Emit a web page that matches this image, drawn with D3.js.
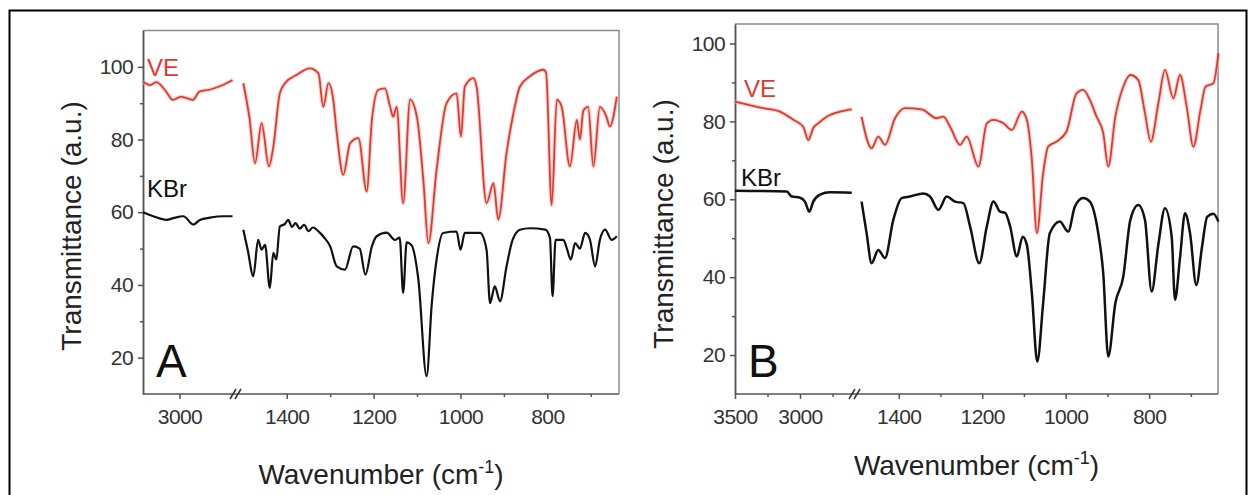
<!DOCTYPE html>
<html>
<head>
<meta charset="utf-8">
<script src="https://cdn.jsdelivr.net/npm/d3@7"></script>
<style>
  body { margin: 0; background: #fff; }
  svg { display: block; font-family: "Liberation Sans", Arial, sans-serif; }
</style>
</head>
<body>
<svg id="chart" width="1248" height="495"></svg>
<script>
'use strict';

// axis ticks
var yTicks = [20, 40, 60, 80, 100];
var yMinor = [30, 50, 70, 90];
var highTicks = [1400, 1200, 1000, 800];
var highMinor = [1300, 1100, 900, 700];

// panel A, high wavenumber part (cm-1, transmittance)
var veA_low = [[3150, 95.9], [3120, 95.0], [3095, 95.8], [3055, 93.2], [3027, 90.9], [2993, 91.8],
  [2975, 91.5], [2945, 90.9], [2918, 93.2], [2877, 93.7], [2822, 95.0], [2782, 96.4]];
var kbrA_low = [[3150, 60], [3108, 58.9], [3053, 57.9], [3025, 58.4], [2984, 58.9], [2943, 56.6],
  [2916, 57.9], [2875, 58.5], [2821, 58.9], [2782, 58.9]];

// panel A, fingerprint part
var veA_high = [[1500, 95.5], [1486, 86], [1473, 73.5], [1458, 84.5], [1441, 72.6], [1431, 78], [1416, 92.7],
  [1404, 95.5], [1377, 97.8], [1347, 99.6], [1327, 98.2], [1316, 89], [1304, 95.5], [1293, 91],
  [1285, 82], [1270, 70.3], [1254, 79], [1235, 80.4], [1216, 65.7], [1204, 85.4], [1189, 93.7],
  [1174, 94.1], [1162, 89], [1155, 86.3], [1147, 89], [1132, 62.5], [1116, 91], [1100, 86],
  [1085, 68], [1074, 51.5], [1055, 71.7], [1032, 90], [1009, 92.7], [999, 80.8], [990, 94.6],
  [970, 96.9], [963, 94.6], [940, 62.5], [924, 68], [913, 58], [894, 76.3], [878, 87.3],
  [863, 94.6], [840, 97.4], [809, 99.2], [803, 98.5], [790, 62], [778, 91], [767, 89],
  [748, 72.6], [732, 85.4], [725, 80], [717, 88], [706, 89], [694, 72.6], [679, 89],
  [664, 86.3], [656, 83.6], [640, 91.8]];
var kbrA_high = [[1500, 55.2], [1490, 49.7], [1477, 42.4], [1466, 52.4], [1458, 49.7], [1450, 51],
  [1439, 39.2], [1431, 48.8], [1424, 47], [1416, 56.1], [1404, 56.8], [1397, 57.9], [1388, 56],
  [1380, 57], [1370, 55.5], [1360, 56.5], [1350, 54.8], [1340, 55.8], [1324, 54.4], [1315, 53.2],
  [1300, 50.6], [1285, 45.1], [1266, 44.2], [1247, 50.6], [1232, 50], [1219, 42.8],
  [1204, 50.6], [1193, 53.4], [1170, 54.4], [1151, 52.4], [1140, 53], [1132, 37.8], [1124, 51.7],
  [1113, 51], [1097, 41.5], [1078, 14.9], [1066, 35], [1055, 47], [1040, 54.3], [1009, 54.7],
  [1000, 49.7], [990, 54.3], [955, 54.3], [940, 49.7], [932, 35], [921, 39.6], [909, 35.5],
  [894, 45.1], [880, 52.4], [863, 55.2], [840, 55.6], [805, 55.2], [794, 53], [788, 36.9],
  [781, 52.4], [763, 52.4], [755, 50], [746, 47], [736, 51.5], [725, 50], [713, 54.3],
  [702, 52.5], [690, 45.1], [679, 52.4], [667, 55.2], [652, 52.4], [640, 53.4]];

// panel B
var veB_low = [[3500, 85.1], [3282, 83.4], [3154, 82.5], [3051, 80.4], [2975, 78.6], [2936, 75.2],
  [2898, 78.3], [2860, 79.5], [2795, 81.2], [2692, 82.5], [2602, 83.1]];
var kbrB_low = [[3500, 62.2], [3102, 62], [3064, 60.7], [3000, 60.4], [2962, 59.4], [2928, 56.8],
  [2898, 59.4], [2846, 61.2], [2769, 61.8], [2602, 61.7]];
var veB_high = [[1489, 81.2], [1465, 73.1], [1449, 76.1], [1433, 74], [1409, 80.8], [1385, 83.4],
  [1345, 83.1], [1309, 80.8], [1293, 81.2], [1277, 78.6], [1253, 74], [1237, 76.1], [1209, 68.4],
  [1189, 79.5], [1173, 80.4], [1149, 79.5], [1129, 77.8], [1105, 82.5], [1093, 80.4], [1081, 70.1],
  [1069, 51.3], [1054, 66.7], [1042, 73.5], [1022, 74.8], [998, 77.4], [974, 87.2], [958, 88.1],
  [942, 85.5], [926, 81.2], [910, 77], [898, 68.4], [881, 81.2], [862, 88.9], [845, 91.9],
  [826, 90.6], [810, 82.1], [796, 74.8], [778, 84.6], [762, 93.2], [742, 85.9], [726, 91.9],
  [710, 83.8], [694, 73.5], [677, 82.9], [665, 88.9], [646, 89.8], [634, 97.5]];
var kbrB_high = [[1489, 59.4], [1477, 51.3], [1465, 43.6], [1449, 47], [1433, 44.9], [1413, 54.7],
  [1393, 60.3], [1373, 60.7], [1341, 61.5], [1325, 60.7], [1305, 57.3], [1285, 60.7], [1265, 59.4],
  [1245, 59], [1229, 53], [1207, 43.6], [1189, 53], [1173, 59.4], [1157, 56.8], [1145, 56.5],
  [1133, 53], [1117, 45.3], [1103, 50.4], [1093, 48.3], [1081, 35.9], [1068, 18.3], [1054, 33.3],
  [1038, 51.3], [1014, 54.3], [994, 51.7], [978, 58.1], [958, 60.3], [942, 59.4], [922, 51.3],
  [910, 41], [898, 19.6], [881, 33.3], [862, 40.1], [845, 54.7], [826, 58.5], [810, 54.7],
  [794, 36.3], [778, 48.3], [762, 57.7], [746, 50.4], [738, 34.2], [726, 45], [714, 56.4],
  [702, 51.3], [687, 38], [673, 48], [661, 55.5], [646, 56.3], [634, 54.3]];

var RED = '#e03a30';
var svg = d3.select('#chart');
var fmt = d3.format('d');

svg.append('rect')
  .attr('width', 1248).attr('height', 495).attr('fill', '#fff');

// outer figure border
svg.append('rect')
  .attr('x', 9.5).attr('y', 10.5)
  .attr('width', 1237).attr('height', 500)
  .attr('fill', 'none').attr('stroke', '#000').attr('stroke-width', 2);

function styleAxis(sel) {
  sel.selectAll('path, line').attr('stroke', '#555').attr('stroke-width', 1.5);
  sel.selectAll('text')
    .attr('fill', '#333')
    .style('font-size', '21px')
    .style('letter-spacing', '-0.6px');
}

function drawPanel(p) {
  var y = d3.scaleLinear().domain(p.yDomain).range([p.bottom, p.top]);
  var xLow = d3.scaleLinear().domain(p.lowDomain).range(p.lowRange);
  var xHigh = d3.scaleLinear().domain(p.highDomain).range(p.highRange);
  var g = svg.append('g');

  // top and right frame
  g.append('path')
    .attr('d', 'M' + p.left + ',' + p.top + 'H' + p.right + 'V' + p.bottom)
    .attr('fill', 'none').attr('stroke', '#8c8c8c').attr('stroke-width', 1.5);

  // y axis
  g.append('g').attr('transform', 'translate(' + p.left + ',0)')
    .call(d3.axisLeft(y).tickValues(yMinor).tickSize(3).tickFormat('').tickSizeOuter(0))
    .call(styleAxis);
  g.append('g').attr('transform', 'translate(' + p.left + ',0)')
    .call(d3.axisLeft(y).tickValues(yTicks).tickSize(5).tickPadding(5).tickSizeOuter(0).tickFormat(fmt))
    .call(styleAxis);

  // x axis, two segments
  var xg = g.append('g').attr('transform', 'translate(0,' + p.bottom + ')');
  xg.append('g').call(d3.axisBottom(xLow).tickValues(p.lowMinor).tickSize(3).tickFormat('').tickSizeOuter(0)).call(styleAxis);
  xg.append('g').call(d3.axisBottom(xLow).tickValues(p.lowTicks).tickSize(5).tickPadding(10).tickSizeOuter(0).tickFormat(fmt)).call(styleAxis);
  xg.append('g').call(d3.axisBottom(xHigh).tickValues(highMinor).tickSize(3).tickFormat('').tickSizeOuter(0)).call(styleAxis);
  xg.append('g').call(d3.axisBottom(xHigh).tickValues(highTicks).tickSize(5).tickPadding(10).tickSizeOuter(0).tickFormat(fmt)).call(styleAxis);
  xg.selectAll('.domain').remove();
  xg.append('line').attr('x1', p.left).attr('x2', p.right)
    .attr('stroke', '#555').attr('stroke-width', 1.5);
  // break marks
  [-3, 2].forEach(function (dx) {
    xg.append('line')
      .attr('x1', p.breakX + dx - 3).attr('y1', 5)
      .attr('x2', p.breakX + dx + 3).attr('y2', -5)
      .attr('stroke', '#333').attr('stroke-width', 1.5);
  });

  // spectra
  var lowLine = d3.line().x(function (d) { return xLow(d[0]); }).y(function (d) { return y(d[1]); }).curve(d3.curveMonotoneX);
  var highLine = d3.line().x(function (d) { return xHigh(d[0]); }).y(function (d) { return y(d[1]); }).curve(d3.curveMonotoneX);

  [[p.ve[0], lowLine], [p.ve[1], highLine]].forEach(function (s) {
    g.append('path').datum(s[0]).attr('d', s[1])
      .attr('fill', 'none').attr('stroke', '#f6b3aa').attr('stroke-width', 4)
      .attr('stroke-linejoin', 'round').attr('opacity', 0.6);
    g.append('path').datum(s[0]).attr('d', s[1])
      .attr('fill', 'none').attr('stroke', RED).attr('stroke-width', 1.8)
      .attr('stroke-linejoin', 'round');
  });
  [[p.kbr[0], lowLine], [p.kbr[1], highLine]].forEach(function (s) {
    g.append('path').datum(s[0]).attr('d', s[1])
      .attr('fill', 'none').attr('stroke', '#111').attr('stroke-width', p.kbrWidth)
      .attr('stroke-linejoin', 'round');
  });

  // labels
  g.append('text').attr('x', p.veLabel[0]).attr('y', p.veLabel[1])
    .attr('fill', RED).style('font-size', '24px').text('VE');
  g.append('text').attr('x', p.kbrLabel[0]).attr('y', p.kbrLabel[1])
    .attr('fill', '#111').style('font-size', '24px').text('KBr');
  g.append('text').attr('x', p.letter[0]).attr('y', p.letter[1])
    .attr('fill', '#111').style('font-size', '46px').text(p.name);

  g.append('text')
    .attr('transform', 'translate(' + p.yTitle[0] + ',' + p.yTitle[1] + ') rotate(-90)')
    .attr('text-anchor', 'middle').attr('fill', '#222').style('font-size', '28px')
    .text('Transmittance (a.u.)');

  var xt = g.append('text')
    .attr('x', (p.left + p.right) / 2).attr('y', p.xTitleY)
    .attr('text-anchor', 'middle').attr('fill', '#222').style('font-size', '28px');
  xt.append('tspan').text('Wavenumber (cm');
  xt.append('tspan').attr('dy', -11).style('font-size', '18px').text('-1');
  xt.append('tspan').attr('dy', 11).text(')');
}

drawPanel({
  name: 'A', left: 143, right: 619, top: 30.5, bottom: 394,
  yDomain: [10, 110],
  lowDomain: [3150, 2780], lowRange: [143, 233], lowTicks: [3000], lowMinor: [],
  highDomain: [1510, 635], highRange: [239, 619],
  breakX: 236, kbrWidth: 2.2,
  ve: [veA_low, veA_high], kbr: [kbrA_low, kbrA_high],
  veLabel: [147, 76], kbrLabel: [147, 197], letter: [156, 377],
  yTitle: [81, 226], xTitleY: 484
});

drawPanel({
  name: 'B', left: 735, right: 1218, top: 24, bottom: 394,
  yDomain: [10, 105],
  lowDomain: [3500, 2600], lowRange: [735, 852], lowTicks: [3500, 3000], lowMinor: [3250, 2750],
  highDomain: [1500, 635], highRange: [857, 1218],
  breakX: 855, kbrWidth: 2.5,
  ve: [veB_low, veB_high], kbr: [kbrB_low, kbrB_high],
  veLabel: [744, 97], kbrLabel: [741, 186], letter: [748, 377],
  yTitle: [673, 224], xTitleY: 475
});
</script>
</body>
</html>
